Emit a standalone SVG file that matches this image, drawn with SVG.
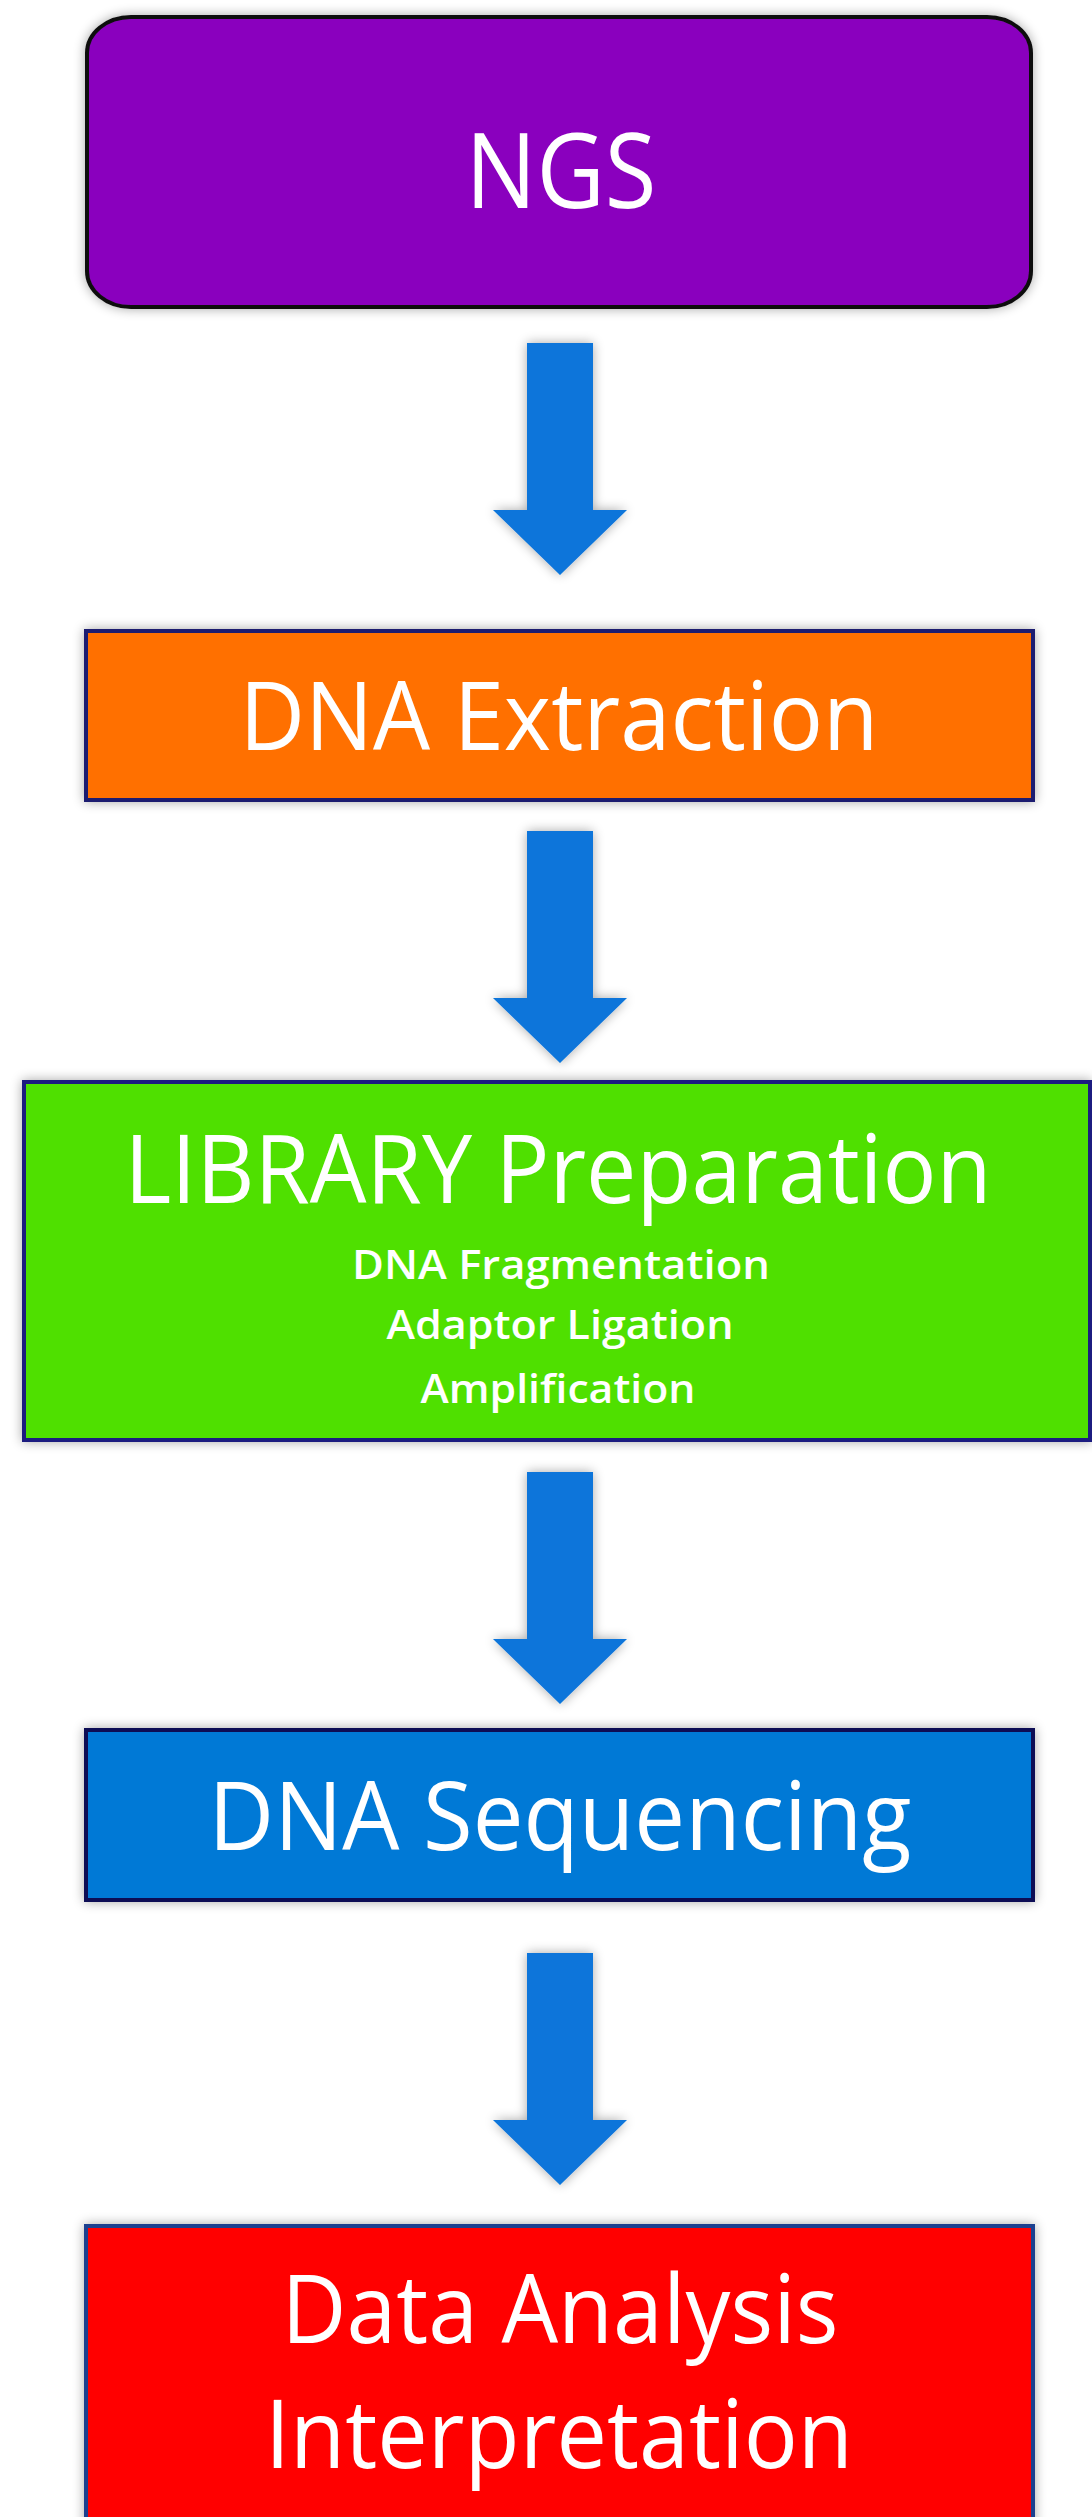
<svg xmlns="http://www.w3.org/2000/svg" width="1092" height="2517" viewBox="0 0 1092 2517">
<style>
  .t{font-family:"Open Sans","Noto Sans","DejaVu Sans",sans-serif;fill:#ffffff;text-anchor:middle}
  .big{font-size:95px}
  .small{font-size:40px;font-weight:600}
  .arrow{fill:#0A74DA;filter:url(#sh)}
  .box{stroke-width:4;filter:url(#sh)}
</style>
<defs>
  <filter id="sh" x="-10%" y="-10%" width="120%" height="120%">
    <feGaussianBlur in="SourceAlpha" stdDeviation="6"/>
    <feComponentTransfer><feFuncA type="linear" slope="0.35"/></feComponentTransfer>
    <feMerge><feMergeNode/><feMergeNode in="SourceGraphic"/></feMerge>
  </filter>
  <path id="arr" d="M-33 0 H33 V167 H67 L0 232 L-67 167 H-33 Z"/>
</defs>
<rect width="1092" height="2517" fill="#ffffff"/>
<g id="connectors">
  <use href="#arr" class="arrow" x="560" y="343"/>
  <use href="#arr" class="arrow" x="560" y="831"/>
  <use href="#arr" class="arrow" x="560" y="1472"/>
  <use href="#arr" class="arrow" x="560" y="1953"/>
</g>
<g id="ngs">
  <rect class="box" x="87" y="17" width="944" height="290" rx="44" ry="36" fill="#8A06BE" stroke="#111111"/>
  <text class="t" x="561" y="208" font-size="105" textLength="191" lengthAdjust="spacingAndGlyphs">NGS</text>
</g>
<g id="extraction">
  <rect class="box" x="86" y="631" width="947" height="169" fill="#FF6F00" stroke="#1B1A70"/>
  <text class="t big" x="559" y="750" textLength="639" lengthAdjust="spacingAndGlyphs">DNA Extraction</text>
</g>
<g id="library">
  <rect class="box" x="24" y="1082" width="1066" height="358" fill="#4FE000" stroke="#1B1A80"/>
  <text class="t big" x="558" y="1203" textLength="867" lengthAdjust="spacingAndGlyphs">LIBRARY Preparation</text>
  <text class="t small" x="561" y="1279" textLength="418" lengthAdjust="spacingAndGlyphs">DNA Fragmentation</text>
  <text class="t small" x="560" y="1339" textLength="347" lengthAdjust="spacingAndGlyphs">Adaptor Ligation</text>
  <text class="t small" x="558" y="1403" textLength="275" lengthAdjust="spacingAndGlyphs">Amplification</text>
</g>
<g id="sequencing">
  <rect class="box" x="86" y="1730" width="947" height="170" fill="#0079D6" stroke="#0B0B55"/>
  <text class="t big" x="560" y="1850" textLength="703" lengthAdjust="spacingAndGlyphs">DNA Sequencing</text>
</g>
<g id="analysis">
  <rect class="box" x="86" y="2226" width="947" height="320" fill="#FF0000" stroke="#1F3F8F"/>
  <text class="t" x="560" y="2343" font-size="95" textLength="557" lengthAdjust="spacingAndGlyphs">Data Analysis</text>
  <text class="t" x="559" y="2468" font-size="95" textLength="588" lengthAdjust="spacingAndGlyphs">Interpretation</text>
</g>
</svg>
